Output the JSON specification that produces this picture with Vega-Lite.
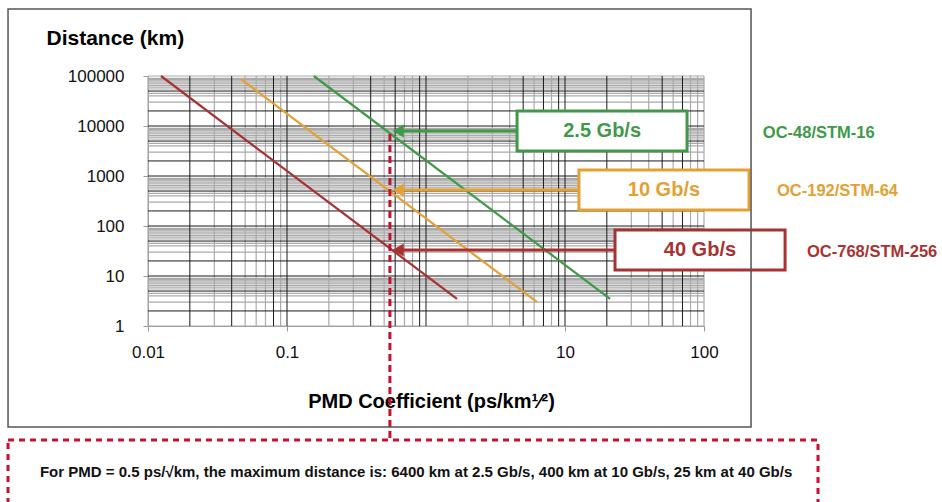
{
  "$schema": "https://vega.github.io/schema/vega-lite/v6.json",
  "width": 556,
  "height": 250,
  "autosize": {"type": "none"},
  "padding": {"left": 148, "top": 76, "right": 238, "bottom": 176},
  "background": "white",
  "view": {"stroke": null},
  "config": {"font": "Liberation Sans", "axis": {"grid": false}},
  "datasets": {
    "vLight": [{"v":0.01},{"v":0.03},{"v":0.05},{"v":0.06},{"v":0.07},{"v":0.09},{"v":0.2},{"v":0.3},{"v":0.5},{"v":0.7},{"v":0.8},{"v":2},{"v":3},{"v":4},{"v":6},{"v":8},{"v":30},{"v":40},{"v":60},{"v":80},{"v":90},{"v":100}],
    "vDark": [{"v":0.02},{"v":0.04},{"v":0.08},{"v":0.1},{"v":0.4},{"v":0.6},{"v":0.9},{"v":1},{"v":5},{"v":7},{"v":9},{"v":10},{"v":20},{"v":50},{"v":70}],
    "hLight": [{"v":1},{"v":3},{"v":4},{"v":4.5},{"v":5.5},{"v":6},{"v":6.5},{"v":7},{"v":7.5},{"v":8},{"v":8.5},{"v":9},
               {"v":30},{"v":40},{"v":45},{"v":55},{"v":60},{"v":65},{"v":70},{"v":75},{"v":80},{"v":85},{"v":90},
               {"v":300},{"v":400},{"v":450},{"v":550},{"v":600},{"v":650},{"v":700},{"v":750},{"v":800},{"v":850},{"v":900},
               {"v":3000},{"v":4000},{"v":4500},{"v":5500},{"v":6000},{"v":6500},{"v":7000},{"v":7500},{"v":8000},{"v":8500},{"v":9000},
               {"v":30000},{"v":40000},{"v":45000},{"v":55000},{"v":60000},{"v":65000},{"v":70000},{"v":75000},{"v":80000},{"v":85000},{"v":90000},{"v":100000}],
    "hDark": [{"v":2},{"v":5},{"v":10},{"v":20},{"v":50},{"v":100},{"v":200},{"v":500},{"v":1000},{"v":2000},{"v":5000},{"v":10000},{"v":20000},{"v":50000}],
    "lines": [
      {"s":"40","pmd":0.0124,"dist":100000},{"s":"40","pmd":1.67,"dist":3.5},
      {"s":"10","pmd":0.0467,"dist":87000},{"s":"10","pmd":6.3,"dist":3.0},
      {"s":"2.5","pmd":0.156,"dist":100000},{"s":"2.5","pmd":21.1,"dist":3.5}
    ],
    "marker": [{"pmd":0.55,"top":6918,"bottom":0.00525}],
    "arrows": [
      {"s":"2.5","tip":0.63,"start":4.52,"dist":7943},
      {"s":"10","tip":0.63,"start":12.6,"dist":525},
      {"s":"40","tip":0.63,"start":22.9,"dist":33}
    ],
    "boxes": [
      {"s":"2.5","label":"2.5 Gb/s","x1":4.52,"x2":75.5,"y1":19953,"y2":3162,"cx":18.5,"cy":7943},
      {"s":"10","label":"10 Gb/s","x1":12.6,"x2":211,"y1":1318,"y2":209,"cx":51.5,"cy":525},
      {"s":"40","label":"40 Gb/s","x1":22.9,"x2":383,"y1":83.2,"y2":13.2,"cx":93.5,"cy":33}
    ],
    "rates": [
      {"s":"2.5","label":"OC-48/STM-16","x":265,"y":7145},
      {"s":"10","label":"OC-192/STM-64","x":335,"y":508},
      {"s":"40","label":"OC-768/STM-256","x":551,"y":30.6}
    ],
    "frame": [{"x1":0.000984,"x2":218,"y1":2190000,"y2":0.00955}],
    "notebox": [{"x1":0.000984,"x2":661,"y1":0.00525,"y2":0.000132}],
    "note": [{"x":0.00167,"y":0.00097,"text":"For PMD = 0.5 ps/√km, the maximum distance is: 6400 km at 2.5 Gb/s, 400 km at 10 Gb/s, 25 km at 40 Gb/s"}]
  },
  "layer": [
    {
      "data": {"name": "vLight"},
      "mark": {"type": "rule", "color": "#aaaaaa", "strokeWidth": 1.2},
      "encoding": {
        "x": {"field": "v", "type": "quantitative", "scale": {"type": "log", "domain": [0.01, 100], "nice": false},
              "axis": {"values": [0.01, 0.1, 10, 100], "format": "~g", "grid": false, "domain": true, "domainColor": "#999", "tickColor": "#999", "tickSize": 5, "labelFontSize": 17, "labelColor": "#111", "labelPadding": 13, "labelFlush": false,
                       "title": "PMD Coefficient (ps/km¹⁄²)", "titleFontSize": 20, "titleFontWeight": "bold", "titleColor": "#000", "titleX": 283, "titleY": 75, "titleBaseline": "middle", "titleAlign": "center"}}
      }
    },
    {
      "data": {"name": "hLight"},
      "mark": {"type": "rule", "color": "#aaaaaa", "strokeWidth": 1.2},
      "encoding": {
        "y": {"field": "v", "type": "quantitative", "scale": {"type": "log", "domain": [1, 100000], "nice": false},
              "axis": {"values": [1, 10, 100, 1000, 10000, 100000], "format": "d", "grid": false, "domain": true, "domainColor": "#999", "tickColor": "#999", "tickSize": 5, "labelFontSize": 17, "labelColor": "#111", "labelPadding": 19, "labelFlush": false,
                       "title": "Distance (km)", "titleFontSize": 21, "titleFontWeight": "bold", "titleColor": "#000", "titleAngle": 0, "titleX": -102, "titleY": -38, "titleAlign": "left", "titleBaseline": "middle"}}
      }
    },
    {
      "data": {"name": "vDark"},
      "mark": {"type": "rule", "color": "#1a1a1a", "strokeWidth": 1},
      "encoding": {
        "x": {"field": "v", "type": "quantitative", "scale": {"type": "log", "domain": [0.01, 100], "nice": false}}
      }
    },
    {
      "data": {"name": "hDark"},
      "mark": {"type": "rule", "color": "#1a1a1a", "strokeWidth": 1},
      "encoding": {
        "y": {"field": "v", "type": "quantitative", "scale": {"type": "log", "domain": [1, 100000], "nice": false}}
      }
    },
    {
      "data": {"name": "lines"},
      "mark": {"type": "line", "strokeWidth": 2.2},
      "encoding": {
        "x": {"field": "pmd", "type": "quantitative", "scale": {"type": "log", "domain": [0.01, 100], "nice": false}},
        "y": {"field": "dist", "type": "quantitative", "scale": {"type": "log", "domain": [1, 100000], "nice": false}},
        "color": {"field": "s", "type": "nominal", "scale": {"domain": ["2.5", "10", "40"], "range": ["#3f9a48", "#e3a035", "#a83232"]}, "legend": null}
      }
    },
    {
      "data": {"name": "marker"},
      "mark": {"type": "rule", "color": "#c8102e", "strokeWidth": 3, "strokeDash": [7, 4]},
      "encoding": {
        "x": {"field": "pmd", "type": "quantitative", "scale": {"type": "log", "domain": [0.01, 100], "nice": false}},
        "y": {"field": "top", "type": "quantitative", "scale": {"type": "log", "domain": [1, 100000], "nice": false}},
        "y2": {"field": "bottom"}
      }
    },
    {
      "data": {"name": "arrows"},
      "mark": {"type": "rule"},
      "encoding": {
        "x": {"field": "tip", "type": "quantitative", "scale": {"type": "log", "domain": [0.01, 100], "nice": false}},
        "x2": {"field": "start"},
        "y": {"field": "dist", "type": "quantitative", "scale": {"type": "log", "domain": [1, 100000], "nice": false}},
        "color": {"field": "s", "type": "nominal", "scale": {"domain": ["2.5", "10", "40"], "range": ["#3f9a48", "#e3a035", "#a83232"]}, "legend": null},
        "strokeWidth": {"field": "s", "type": "nominal", "scale": {"domain": ["2.5", "10", "40"], "range": [3, 3, 4]}, "legend": null}
      }
    },
    {
      "data": {"name": "arrows"},
      "mark": {"type": "point", "shape": "triangle-left", "filled": true, "size": 170, "opacity": 1},
      "encoding": {
        "x": {"field": "tip", "type": "quantitative", "scale": {"type": "log", "domain": [0.01, 100], "nice": false}},
        "y": {"field": "dist", "type": "quantitative", "scale": {"type": "log", "domain": [1, 100000], "nice": false}},
        "color": {"field": "s", "type": "nominal", "scale": {"domain": ["2.5", "10", "40"], "range": ["#3f9a48", "#e3a035", "#a83232"]}, "legend": null}
      }
    },
    {
      "data": {"name": "boxes"},
      "mark": {"type": "rect", "fill": "white", "strokeWidth": 3},
      "encoding": {
        "x": {"field": "x1", "type": "quantitative", "scale": {"type": "log", "domain": [0.01, 100], "nice": false}},
        "x2": {"field": "x2"},
        "y": {"field": "y1", "type": "quantitative", "scale": {"type": "log", "domain": [1, 100000], "nice": false}},
        "y2": {"field": "y2"},
        "stroke": {"field": "s", "type": "nominal", "scale": {"domain": ["2.5", "10", "40"], "range": ["#3f9a48", "#e3a035", "#a83232"]}, "legend": null}
      }
    },
    {
      "data": {"name": "boxes"},
      "mark": {"type": "text", "fontSize": 20, "fontWeight": "bold", "align": "center", "baseline": "middle"},
      "encoding": {
        "x": {"field": "cx", "type": "quantitative", "scale": {"type": "log", "domain": [0.01, 100], "nice": false}},
        "y": {"field": "cy", "type": "quantitative", "scale": {"type": "log", "domain": [1, 100000], "nice": false}},
        "text": {"field": "label"},
        "color": {"field": "s", "type": "nominal", "scale": {"domain": ["2.5", "10", "40"], "range": ["#3f9a48", "#e0a030", "#a83232"]}, "legend": null}
      }
    },
    {
      "data": {"name": "rates"},
      "mark": {"type": "text", "fontSize": 16.5, "fontWeight": "bold", "align": "left", "baseline": "middle"},
      "encoding": {
        "x": {"field": "x", "type": "quantitative", "scale": {"type": "log", "domain": [0.01, 100], "nice": false}},
        "y": {"field": "y", "type": "quantitative", "scale": {"type": "log", "domain": [1, 100000], "nice": false}},
        "text": {"field": "label"},
        "color": {"field": "s", "type": "nominal", "scale": {"domain": ["2.5", "10", "40"], "range": ["#3f9a48", "#e0a030", "#a83232"]}, "legend": null}
      }
    },
    {
      "data": {"name": "frame"},
      "mark": {"type": "rect", "fill": null, "fillOpacity": 0, "stroke": "#555555", "strokeWidth": 1.5},
      "encoding": {
        "x": {"field": "x1", "type": "quantitative", "scale": {"type": "log", "domain": [0.01, 100], "nice": false}},
        "x2": {"field": "x2"},
        "y": {"field": "y1", "type": "quantitative", "scale": {"type": "log", "domain": [1, 100000], "nice": false}},
        "y2": {"field": "y2"}
      }
    },
    {
      "data": {"name": "notebox"},
      "mark": {"type": "rect", "fill": null, "fillOpacity": 0, "stroke": "#c8102e", "strokeWidth": 3, "strokeDash": [6, 5]},
      "encoding": {
        "x": {"field": "x1", "type": "quantitative", "scale": {"type": "log", "domain": [0.01, 100], "nice": false}},
        "x2": {"field": "x2"},
        "y": {"field": "y1", "type": "quantitative", "scale": {"type": "log", "domain": [1, 100000], "nice": false}},
        "y2": {"field": "y2"}
      }
    },
    {
      "data": {"name": "note"},
      "mark": {"type": "text", "fontSize": 15, "fontWeight": "bold", "align": "left", "baseline": "alphabetic", "color": "#111"},
      "encoding": {
        "x": {"field": "x", "type": "quantitative", "scale": {"type": "log", "domain": [0.01, 100], "nice": false}},
        "y": {"field": "y", "type": "quantitative", "scale": {"type": "log", "domain": [1, 100000], "nice": false}},
        "text": {"field": "text"}
      }
    }
  ]
}
